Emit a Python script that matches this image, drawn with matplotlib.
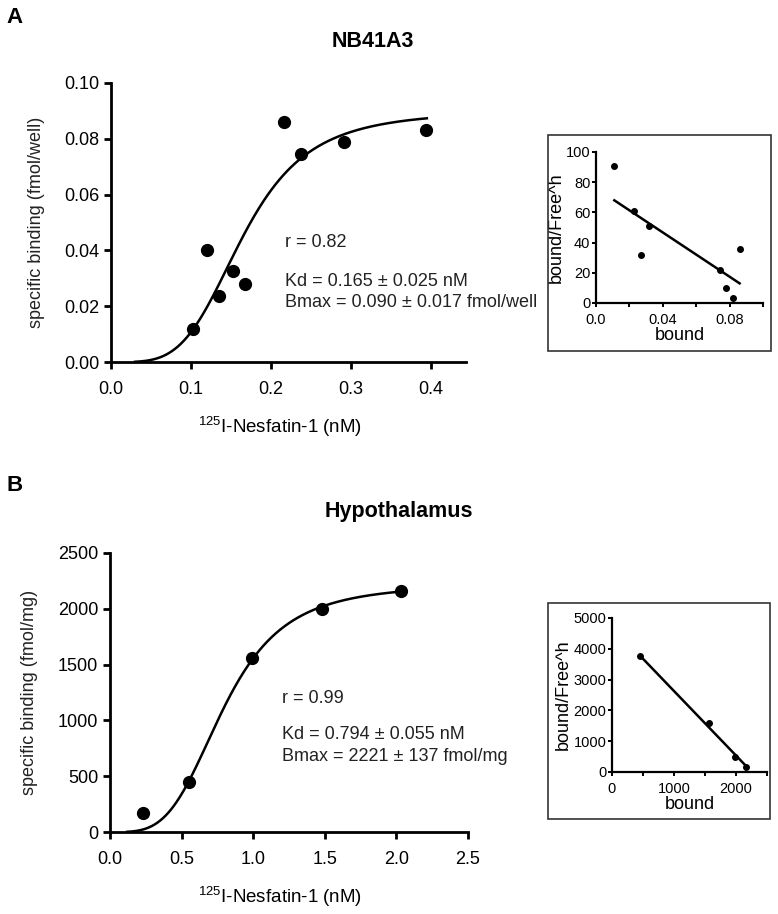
import numpy as np
import matplotlib
matplotlib.use("Agg")
import matplotlib.pyplot as plt
from matplotlib.patches import Rectangle

plt.rcParams['font.family'] = ['Liberation Sans', 'DejaVu Sans']
plt.rcParams['mathtext.fontset'] = 'custom'
plt.rcParams['mathtext.rm'] = 'Liberation Sans'
plt.rcParams['mathtext.it'] = 'Liberation Sans:italic'
plt.rcParams['mathtext.bf'] = 'Liberation Sans:bold'

# panel A: NB41A3 saturation binding
a_conc = [0.102, 0.120, 0.135, 0.153, 0.167, 0.216, 0.237, 0.291, 0.394]
a_bound = [0.012, 0.040, 0.0235, 0.0325, 0.028, 0.086, 0.0745, 0.079, 0.083]
a_kd, a_bmax, a_hill = 0.165, 0.090, 4.0
a_curve_range = (0.03, 0.395)

# panel A inset (scatchard-like)
ai_bound = [0.011, 0.023, 0.027, 0.032, 0.074, 0.078, 0.082, 0.086]
ai_ratio = [91, 61, 32, 51, 22, 10, 3, 36]
ai_line_x = [0.011, 0.086]
ai_line_y = [68, 13]

# panel B: hypothalamus
b_conc = [0.23, 0.555, 0.99, 1.48, 2.03]
b_bound = [170, 450, 1560, 2000, 2160]
b_kd, b_bmax, b_hill = 0.794, 2221, 3.7
b_curve_range = (0.12, 2.03)

bi_bound = [450, 1570, 1980, 2160]
bi_ratio = [3750, 1600, 480, 170]
bi_line_x = [450, 2160]
bi_line_y = [3780, 200]


def hill(x, bmax, kd, n):
    return bmax * x**n / (kd**n + x**n)


fig = plt.figure(figsize=(7.78, 9.14), dpi=100)
FS = 13


def main_panel(rect, xs, ys, kd, bmax, n, crange, xlim, xticks, xtl, ylim, yticks, ytl, ylabel):
    ax = fig.add_axes(rect)
    xx = np.linspace(crange[0], crange[1], 300)
    ax.plot(xx, hill(xx, bmax, kd, n), color='black', lw=1.8)
    ax.plot(xs, ys, 'o', color='black', ms=8.5, clip_on=False)
    ax.set_xlim(*xlim)
    ax.set_ylim(*ylim)
    ax.set_xticks(xticks)
    ax.set_xticklabels(xtl)
    ax.set_yticks(yticks)
    ax.set_yticklabels(ytl)
    for s in ['top', 'right']:
        ax.spines[s].set_visible(False)
    for s in ['left', 'bottom']:
        ax.spines[s].set_linewidth(2)
    ax.tick_params(direction='out', width=2, length=5, labelsize=FS, color='black')
    ax.tick_params(axis='x', pad=9)
    ax.set_ylabel(ylabel, fontsize=FS, color='#222222', labelpad=14)
    ax.set_xlabel('$^{125}$I-Nesfatin-1 (nM)', fontsize=13.5, labelpad=12)
    ax.xaxis.label.set_x(0.475)
    return ax


def inset(rect, box, xs, ys, lx, ly, xlim, xticks, xtl, ylim, yticks):
    fig.add_artist(Rectangle((box[0], box[1]), box[2], box[3], transform=fig.transFigure,
                             fill=False, edgecolor='#333333', lw=1.2))
    ax = fig.add_axes(rect)
    ax.plot(lx, ly, color='black', lw=1.8)
    ax.plot(xs, ys, 'o', color='black', ms=4, clip_on=False)
    ax.set_xlim(*xlim)
    ax.set_ylim(*ylim)
    ax.set_xticks(xticks)
    ax.set_xticklabels(xtl)
    ax.set_yticks(yticks)
    for s in ['top', 'right']:
        ax.spines[s].set_visible(False)
    for s in ['left', 'bottom']:
        ax.spines[s].set_linewidth(1.6)
    ax.tick_params(direction='out', width=1.4, length=3, labelsize=10.5, pad=1)
    ax.tick_params(axis='x', pad=4)
    ax.set_xlabel('bound', fontsize=FS, labelpad=0)
    ax.set_ylabel('bound/Free^h', fontsize=FS, labelpad=1)
    return ax


axA = main_panel([0.1427, 0.6039, 0.4563, 0.3053], a_conc, a_bound, a_kd, a_bmax, a_hill,
                 a_curve_range, (0, 0.444), [0, 0.1, 0.2, 0.3, 0.4],
                 ['0.0', '0.1', '0.2', '0.3', '0.4'], (0, 0.1),
                 [0, 0.02, 0.04, 0.06, 0.08, 0.10],
                 ['0.00', '0.02', '0.04', '0.06', '0.08', '0.10'],
                 'specific binding (fmol/well)')
axA.text(0.2175, 0.0427, 'r = 0.82', fontsize=FS, va='center', color='#222222')
axA.text(0.2175, 0.0290, 'Kd = 0.165 ± 0.025 nM', fontsize=FS, va='center',
         color='#222222', clip_on=False)
axA.text(0.2175, 0.0215, 'Bmax = 0.090 ± 0.017 fmol/well', fontsize=FS, va='center',
         color='#222222', clip_on=False)
axA.set_title('NB41A3', fontsize=15.5, fontweight='bold', pad=26, x=0.738)

axB = main_panel([0.1414, 0.0897, 0.4602, 0.3053], b_conc, b_bound, b_kd, b_bmax, b_hill,
                 b_curve_range, (0, 2.5), [0, 0.5, 1.0, 1.5, 2.0, 2.5],
                 ['0.0', '0.5', '1.0', '1.5', '2.0', '2.5'], (0, 2500),
                 [0, 500, 1000, 1500, 2000, 2500],
                 ['0', '500', '1000', '1500', '2000', '2500'],
                 'specific binding (fmol/mg)')
axB.text(1.2, 1200, 'r = 0.99', fontsize=FS, va='center', color='#222222')
axB.text(1.2, 878, 'Kd = 0.794 ± 0.055 nM', fontsize=FS, va='center',
         color='#222222', clip_on=False)
axB.text(1.2, 681, 'Bmax = 2221 ± 137 fmol/mg', fontsize=FS, va='center',
         color='#222222', clip_on=False)
axB.set_title('Hypothalamus', fontsize=15.5, fontweight='bold', pad=26, x=0.807)

inset([0.766, 0.6685, 0.2147, 0.1652], [0.7044, 0.616, 0.2866, 0.2363],
      ai_bound, ai_ratio, ai_line_x, ai_line_y, (0, 0.1),
      [0, 0.02, 0.04, 0.06, 0.08, 0.1], ['0.0', '', '0.04', '', '0.08', ''],
      (0, 100), [0, 20, 40, 60, 80, 100])
inset([0.7866, 0.1554, 0.1992, 0.1685], [0.7044, 0.1039, 0.2853, 0.2363],
      bi_bound, bi_ratio, bi_line_x, bi_line_y, (0, 2500),
      [0, 500, 1000, 1500, 2000, 2500], ['0', '', '1000', '', '2000', ''],
      (0, 5000), [0, 1000, 2000, 3000, 4000, 5000])

fig.text(0.008, 0.981, 'A', fontsize=16, fontweight='bold', va='center')
fig.text(0.008, 0.469, 'B', fontsize=16, fontweight='bold', va='center')

fig.savefig('out.png', dpi=100)
